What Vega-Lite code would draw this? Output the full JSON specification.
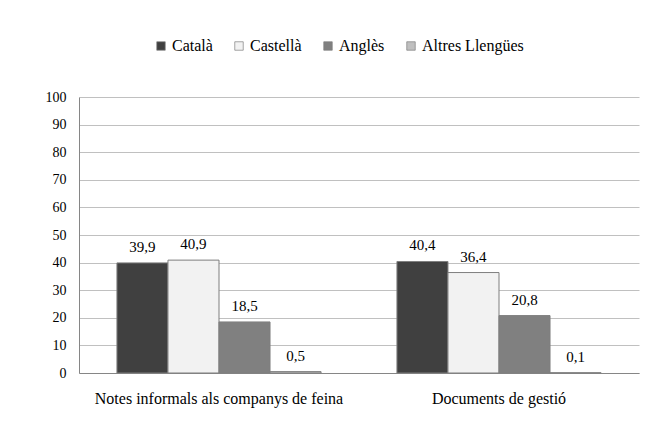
{
  "$schema": "https://vega.github.io/schema/vega-lite/v6.json",
  "width": 560,
  "height": 276,
  "autosize": "none",
  "padding": {"left": 79, "top": 97, "right": 23, "bottom": 74},
  "background": "white",
  "config": {
    "view": {"stroke": null},
    "axis": {"labelFont": "Liberation Serif", "labelColor": "#000000"}
  },
  "data": {
    "values": [
      {"grup": "Notes informals als companys de feina", "llengua": "Català", "valor": 39.9, "etiqueta": "39,9"},
      {"grup": "Notes informals als companys de feina", "llengua": "Castellà", "valor": 40.9, "etiqueta": "40,9"},
      {"grup": "Notes informals als companys de feina", "llengua": "Anglès", "valor": 18.5, "etiqueta": "18,5"},
      {"grup": "Notes informals als companys de feina", "llengua": "Altres Llengües", "valor": 0.5, "etiqueta": "0,5"},
      {"grup": "Documents de gestió", "llengua": "Català", "valor": 40.4, "etiqueta": "40,4"},
      {"grup": "Documents de gestió", "llengua": "Castellà", "valor": 36.4, "etiqueta": "36,4"},
      {"grup": "Documents de gestió", "llengua": "Anglès", "valor": 20.8, "etiqueta": "20,8"},
      {"grup": "Documents de gestió", "llengua": "Altres Llengües", "valor": 0.1, "etiqueta": "0,1"}
    ]
  },
  "encoding": {
    "x": {
      "field": "grup", "type": "nominal", "sort": null,
      "scale": {"paddingInner": 0.271, "paddingOuter": 0.1355},
      "axis": {"title": null, "labelAngle": 0, "ticks": false, "domainColor": "#868686", "labelPadding": 17, "labelLimit": 400, "labelFontSize": 16}
    },
    "xOffset": {
      "field": "llengua", "type": "nominal",
      "sort": ["Català", "Castellà", "Anglès", "Altres Llengües"],
      "scale": {"paddingInner": 0, "paddingOuter": 0}
    },
    "y": {
      "field": "valor", "type": "quantitative",
      "scale": {"domain": [0, 100], "nice": false},
      "axis": {"title": null, "values": [0, 10, 20, 30, 40, 50, 60, 70, 80, 90, 100], "labelOverlap": false, "ticks": false, "domainColor": "#868686", "gridColor": "#c0c0c0", "labelPadding": 13, "labelFontSize": 14}
    }
  },
  "layer": [
    {
      "mark": {"type": "bar", "stroke": "#7f7f7f", "strokeWidth": 1},
      "encoding": {
        "color": {
          "field": "llengua", "type": "nominal",
          "sort": ["Català", "Castellà", "Anglès", "Altres Llengües"],
          "scale": {"domain": ["Català", "Castellà", "Anglès", "Altres Llengües"], "range": ["#404040", "#f2f2f2", "#808080", "#bfbfbf"]},
          "legend": {
            "title": null, "orient": "none", "direction": "horizontal", "columns": 4,
            "legendX": 74, "legendY": -59,
            "symbolType": "square", "symbolSize": 72, "symbolStrokeColor": "#7f7f7f", "symbolStrokeWidth": 0.7,
            "labelFont": "Liberation Serif", "labelFontSize": 16, "labelColor": "#000000",
            "labelOffset": 3, "columnPadding": 18
          }
        }
      }
    },
    {
      "mark": {"type": "text", "dy": -11, "baseline": "alphabetic", "font": "Liberation Serif", "fontSize": 15, "color": "#000000"},
      "encoding": {"text": {"field": "etiqueta"}}
    }
  ]
}
